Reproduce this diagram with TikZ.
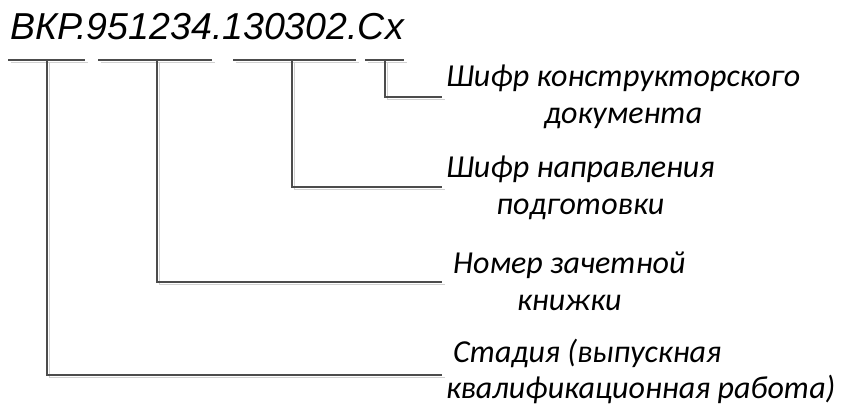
\documentclass[tikz,border=0pt]{standalone}
\usepackage{fontspec}
\setmainfont{Carlito}
\newfontfamily\codefont{Liberation Sans}
\begin{document}
\begin{tikzpicture}[x=1pt,y=-1pt,
  rule/.style={draw=black!70, line width=1.1pt,
    preaction={draw=black!18, line width=1.1pt, transform canvas={shift={(2.5pt,-2.5pt)}}}},
  label/.style={font=\fontsize{32}{37}\selectfont\itshape, align=center, inner sep=0pt, anchor=west},
  code/.style={font=\codefont\fontsize{37.5}{40}\selectfont\itshape, inner sep=0pt, anchor=base west}]
\useasboundingbox[fill=white] (0,0) rectangle (844,407);

% the designation itself
\node[code] (code) at (10,39) {ВКР.951234.130302.Сх};

% underline of each field, with the point where its leader starts
\coordinate (a1) at (8,60);   \coordinate (b1) at (85,60);   \coordinate (m1) at (47,60);
\coordinate (a2) at (98,60);  \coordinate (b2) at (212,60);  \coordinate (m2) at (157,60);
\coordinate (a3) at (233,60); \coordinate (b3) at (356,60);  \coordinate (m3) at (292,60);
\coordinate (a4) at (365,60); \coordinate (b4) at (404,60);  \coordinate (m4) at (385,60);

% explanations
\node[label] (l4) at (446,97)  {Шифр конструкторского\\документа};
\node[label] (l3) at (446,188) {Шифр направления\\подготовки};
\node[label] (l2) at (453,281) {Номер зачетной\\книжки};
\node[label, align=left, font=\fontsize{32}{36}\selectfont\itshape] (l1) at (446,371)
  {\hspace*{7pt}Стадия (выпускная\\квалификационная работа)};

% end points of the leaders beside the explanations
\coordinate (e4) at (442,97);
\coordinate (e3) at (442,187);
\coordinate (e2) at (442,282);
\coordinate (e1) at (442,375);

\foreach \i in {1,2,3,4}{
  \draw[rule] (a\i) -- (b\i);
  \draw[rule] (m\i) |- (e\i);
}
\end{tikzpicture}
\end{document}
